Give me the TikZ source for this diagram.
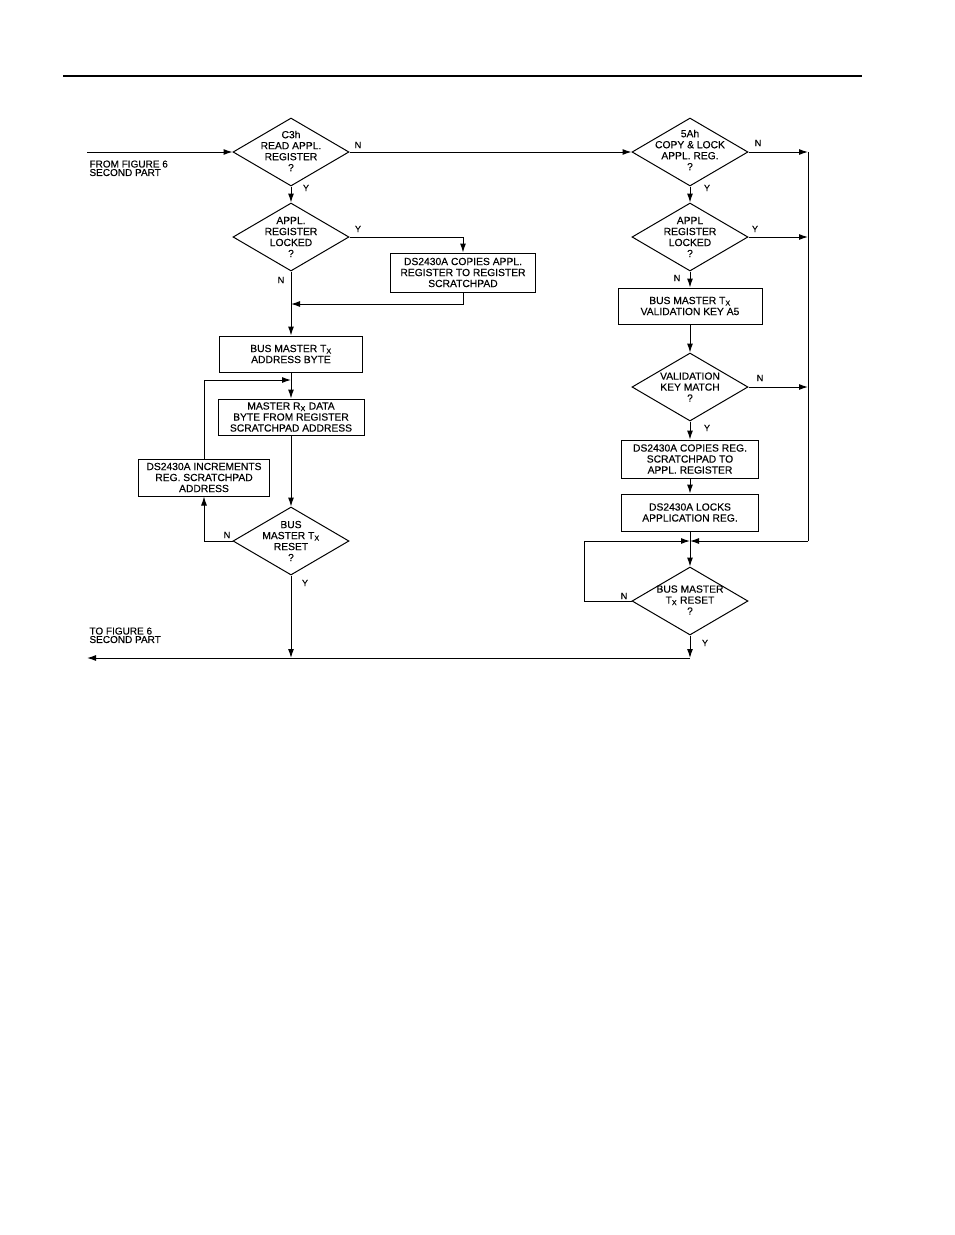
\documentclass[tikz,border=0pt]{standalone}
\usepackage{fontspec}
\setmainfont{Liberation Sans}[UprightFeatures={FakeBold=0.25}]
\usetikzlibrary{arrows.meta,shapes.geometric}
\begin{document}
\begin{tikzpicture}[x=1pt,y=-1pt,
  line width=1pt,
  arr/.style={-{Latex[length=9pt,width=6pt]}},
  txt/.style={font=\fontsize{10.3}{11}\selectfont, align=center, inner sep=0pt},
  dia/.style={draw, diamond, minimum width=116pt, minimum height=68pt, inner sep=0pt},
  box/.style={draw, txt, minimum height=36pt},
  lab/.style={font=\fontsize{9}{9}\selectfont, inner sep=0pt},
  side/.style={font=\fontsize{10}{8.5}\selectfont, align=left, inner sep=0pt, anchor=north west}]
\useasboundingbox (0,0) rectangle (954,1235);
\draw[line width=1.6pt] (63,76) coordinate (h1) -- (862,76) coordinate (h2);

% left column
\node[dia] (d1) at (291,152) {};
\node[txt] (d1t) at (291,151) {C3h\\READ APPL.\\REGISTER\\?};
\node[dia] (d2) at (291,237) {};
\node[txt] (d2t) at (291,237) {APPL.\\REGISTER\\LOCKED\\?};
\node[box, minimum width=145pt, minimum height=39pt] (b1) at (463,272.5) {DS2430A COPIES APPL.\\REGISTER TO REGISTER\\SCRATCHPAD};
\node[box, minimum width=143pt] (b2) at (291,354) {BUS MASTER T\textsubscript{X}\\ADDRESS BYTE};
\node[box, minimum width=146pt] (b3) at (291,417) {MASTER R\textsubscript{X} DATA\\BYTE FROM REGISTER\\SCRATCHPAD ADDRESS};
\node[box, minimum width=131pt, minimum height=37pt] (b4) at (204,477.5) {DS2430A INCREMENTS\\REG. SCRATCHPAD\\ADDRESS};
\node[dia] (d3) at (291,541) {};
\node[txt] (d3t) at (291,541) {BUS\\MASTER T\textsubscript{X}\\RESET\\?};

% right column
\node[dia] (r1) at (690,152) {};
\node[txt] (r1t) at (690,150) {5Ah\\COPY \& LOCK\\APPL. REG.\\?};
\node[dia] (r2) at (690,237) {};
\node[txt] (r2t) at (690,237) {APPL\\REGISTER\\LOCKED\\?};
\node[box, minimum width=144pt] (rb1) at (690,306) {BUS MASTER T\textsubscript{X}\\VALIDATION KEY A5};
\node[dia] (r3) at (690,387) {};
\node[txt] (r3t) at (690,387) {VALIDATION\\KEY MATCH\\?};
\node[box, minimum width=137pt, minimum height=38pt] (rb2) at (690,459) {DS2430A COPIES REG.\\SCRATCHPAD TO\\APPL. REGISTER};
\node[box, minimum width=137pt, minimum height=37pt] (rb3) at (690,512.5) {DS2430A LOCKS\\APPLICATION REG.};
\node[dia] (r4) at (690,601) {};
\node[txt] (r4t) at (690,600) {BUS MASTER\\T\textsubscript{X} RESET\\?};

% coordinates
\coordinate (in) at (87,152);
\coordinate (out) at (87,658);
\coordinate (j1) at (291,304);
\coordinate (j2) at (291,380);
\coordinate (j3) at (291,658);
\coordinate (j4) at (690,658);
\coordinate (j5) at (690,541);
\coordinate (rv1) at (808,152);
\coordinate (rv2) at (808,237);
\coordinate (rv3) at (808,387);
\coordinate (rc) at (808,541);
\coordinate (lc) at (584,541);

% side texts
\node[side] (from) at (89,160) {FROM FIGURE 6\\SECOND PART};
\node[side] (to) at (89,627) {TO FIGURE 6\\SECOND PART};

% connectors left
\draw[arr] (in) -- (d1.west);
\draw[arr] (d1.east) -- (r1.west);
\draw[arr] (d1.south) -- (d2.north);
\draw[arr] (d2.east) -| (b1.north);
\draw[arr] (b1.south) |- (j1);
\draw[arr] (d2.south) -- (b2.north);
\draw[arr] (b2.south) -- (b3.north);
\draw[arr] (b4.north) |- (j2);
\draw[arr] (b3.south) -- (d3.north);
\draw[arr] (d3.west) -| (b4.south);
\draw[arr] (d3.south) -- (j3);
\draw[arr] (j4) -- (out);

% connectors right
\draw[arr] (r1.east) -- (rv1);
\draw[arr] (r1.south) -- (r2.north);
\draw[arr] (r2.east) -- (rv2);
\draw[arr] (r2.south) -- (rb1.north);
\draw[arr] (rb1.south) -- (r3.north);
\draw[arr] (r3.east) -- (rv3);
\draw[arr] (r3.south) -- (rb2.north);
\draw[arr] (rb2.south) -- (rb3.north);
\draw (rv1) -- (rc);
\draw[arr] (rc) -- (j5);
\draw[arr] (r4.west) -| (lc) -- (j5);
\draw[arr] (rb3.south) -- (r4.north);
\draw[arr] (r4.south) -- (j4);

% labels
\node[lab] (l1) at (358,145) {N};
\node[lab] (l2) at (306,188) {Y};
\node[lab] (l3) at (358,229) {Y};
\node[lab] (l4) at (281,280) {N};
\node[lab] (l5) at (227,535) {N};
\node[lab] (l6) at (305,583) {Y};
\node[lab] (l7) at (758,143) {N};
\node[lab] (l8) at (707,188) {Y};
\node[lab] (l9) at (755,229) {Y};
\node[lab] (l10) at (677,278) {N};
\node[lab] (l11) at (760,378) {N};
\node[lab] (l12) at (707,428) {Y};
\node[lab] (l13) at (624,596) {N};
\node[lab] (l14) at (705,643) {Y};
\end{tikzpicture}
\end{document}
